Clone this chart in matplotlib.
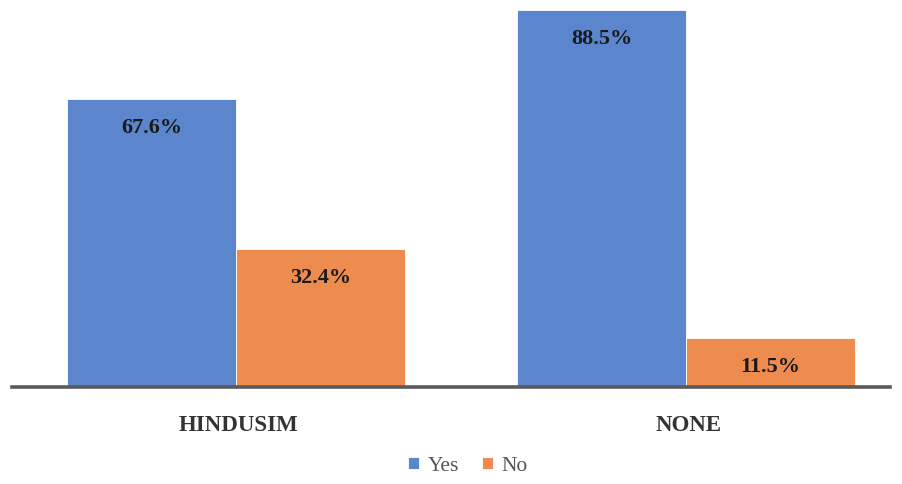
import matplotlib.pyplot as plt
import numpy as np

religions = ['HINDUSIM', 'NONE']
yes_pct = [67.6, 88.5]
no_pct = [32.4, 11.5]

blue = '#5B86CE'
orange = '#EE8C4F'
serif = ['Liberation Serif', 'DejaVu Serif']

fig = plt.figure(figsize=(9.02, 4.85), dpi=100)
ax = fig.add_axes([12 / 902, 0.201, 878 / 902, 0.799])

x = np.arange(len(religions))
w = 0.3756
bars_yes = ax.bar(x - w / 2, yes_pct, w, color=blue, label='Yes', edgecolor='white', linewidth=0.6)
bars_no = ax.bar(x + w / 2, no_pct, w, color=orange, label='No', edgecolor='white', linewidth=0.6)

for bars in (bars_yes, bars_no):
    for b in bars:
        h = b.get_height()
        ax.annotate(f'{h:.1f}%', (b.get_x() + b.get_width() / 2, h),
                    xytext=(0, -28), textcoords='offset pixels',
                    ha='center', va='center', fontsize=16, fontweight='bold',
                    family=serif, color='#1a1a1a')

ax.set_xlim(-0.498, 1.453)
ax.set_ylim(0, 91.1)
ax.set_yticks([])
ax.set_xticks(x + 0.005)
ax.set_xticklabels(religions, fontsize=16.5, fontweight='bold', family=serif, color='#333333')
ax.tick_params(axis='x', length=0, pad=20)
for side in ('top', 'right', 'left'):
    ax.spines[side].set_visible(False)
ax.spines['bottom'].set_color('#5a5a5a')
ax.spines['bottom'].set_linewidth(2.6)

fig.legend(handles=[bars_yes, bars_no], labels=['Yes', 'No'], loc='center',
           bbox_to_anchor=(468 / 902, 1 - 467 / 485), ncol=2, frameon=False,
           prop={'family': serif, 'size': 15.5}, labelcolor='#555555',
           handlelength=0.5, handleheight=0.5, handletextpad=0.4, columnspacing=1.1)

fig.savefig('out.png', dpi=100)
